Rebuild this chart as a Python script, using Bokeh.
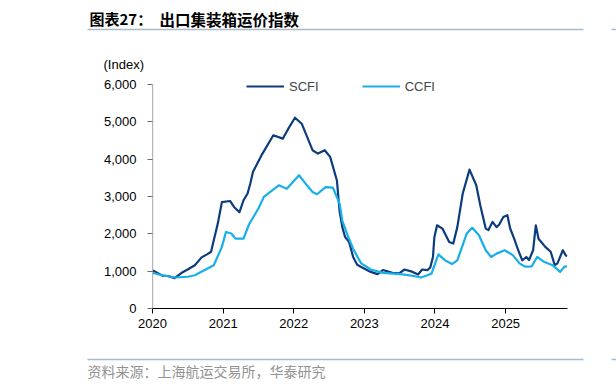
import pandas as pd
from bokeh.plotting import figure
from bokeh.layouts import column
from bokeh.models import (Range1d, FixedTicker, DatetimeTickFormatter, NumeralTickFormatter,
                          Legend, LegendItem, Label, BoxAnnotation, ColumnDataSource)
from bokeh.embed import file_html
from bokeh.resources import INLINE

# ---------------- data ----------------
TITLE_PREFIX = "图表27："
TITLE = "出口集装箱运价指数"
SOURCE = "资料来源：上海航运交易所，华泰研究"
UNIT = "(Index)"
SERIES_NAMES = ["SCFI", "CCFI"]
YEAR_TICKS = ["2020-01-01", "2021-01-01", "2022-01-01", "2023-01-01", "2024-01-01", "2025-01-01"]
Y_TICKS = [0, 1000, 2000, 3000, 4000, 5000, 6000]
X_START = "2020-01-01"
X_END = "2025-11-17"

SCFI_DATES = [
    "2020-01-03", "2020-02-21", "2020-03-20", "2020-04-24", "2020-05-29", "2020-07-03",
    "2020-08-07", "2020-09-11", "2020-10-09", "2020-10-30", "2020-11-13", "2020-12-04",
    "2020-12-25", "2021-02-05", "2021-02-26", "2021-03-26", "2021-04-16", "2021-05-07",
    "2021-05-21", "2021-06-04", "2021-07-23", "2021-09-17", "2021-11-05", "2021-12-03",
    "2022-01-07", "2022-02-11", "2022-04-08", "2022-05-06", "2022-06-10", "2022-07-08",
    "2022-08-12", "2022-08-26", "2022-09-09", "2022-09-23", "2022-10-14", "2022-10-21",
    "2022-11-04", "2022-11-25", "2022-12-16", "2023-02-03", "2023-03-10", "2023-04-07",
    "2023-05-26", "2023-06-30", "2023-07-28", "2023-09-08", "2023-10-06", "2023-10-27",
    "2023-11-24", "2023-12-08", "2023-12-22", "2023-12-29", "2024-01-12", "2024-02-09",
    "2024-03-15", "2024-04-05", "2024-04-26", "2024-05-24", "2024-06-28", "2024-08-02",
    "2024-08-23", "2024-09-20", "2024-10-04", "2024-10-25", "2024-11-15", "2024-11-29",
    "2024-12-20", "2025-01-10", "2025-01-24", "2025-02-14", "2025-03-07", "2025-03-28",
    "2025-04-18", "2025-05-02", "2025-05-23", "2025-06-06", "2025-06-20", "2025-07-25",
    "2025-08-22", "2025-09-12", "2025-09-26", "2025-10-24", "2025-11-07", "2025-11-14",
]
SCFI_VALUES = [
    1020, 880, 870, 815, 950, 1050,
    1160, 1370, 1450, 1520, 1830, 2280,
    2850, 2880, 2720, 2580, 2900, 3080,
    3350, 3660, 4150, 4640, 4550, 4810,
    5110, 4950, 4240, 4150, 4240, 4060,
    3430, 2600, 2180, 1920, 1780, 1650,
    1380, 1170, 1110, 980, 920, 1030,
    955, 940, 1045, 980, 910, 1045,
    1030, 1100, 1380, 1900, 2230, 2140,
    1780, 1740, 2180, 3080, 3720, 3300,
    2760, 2140, 2100, 2320, 2180, 2250,
    2450, 2500, 2150, 1870, 1560, 1290,
    1380, 1300, 1560, 2230, 1870, 1650,
    1520, 1160, 1210, 1560, 1430, 1390,
]

CCFI_DATES = [
    "2020-01-03", "2020-02-21", "2020-04-24", "2020-07-03", "2020-08-07", "2020-10-02",
    "2020-11-13", "2020-12-25", "2021-01-15", "2021-02-12", "2021-03-05", "2021-04-16",
    "2021-05-14", "2021-07-02", "2021-07-30", "2021-10-15", "2021-11-26", "2022-01-28",
    "2022-03-04", "2022-04-08", "2022-05-01", "2022-06-15", "2022-07-22", "2022-08-26",
    "2022-09-09", "2022-10-07", "2022-11-04", "2022-12-02", "2022-12-16", "2023-02-03",
    "2023-04-07", "2023-07-07", "2023-09-15", "2023-10-20", "2023-11-24", "2023-12-15",
    "2024-01-19", "2024-02-23", "2024-03-29", "2024-04-26", "2024-06-14", "2024-07-12",
    "2024-08-16", "2024-09-20", "2024-10-18", "2024-11-15", "2024-12-27", "2025-02-07",
    "2025-03-14", "2025-04-11", "2025-05-16", "2025-06-13", "2025-07-18", "2025-09-01",
    "2025-10-10", "2025-11-01", "2025-11-14",
]
CCFI_VALUES = [
    950, 890, 830, 850, 890, 1045,
    1160, 1650, 2050, 2010, 1870, 1870,
    2250, 2680, 2990, 3300, 3210, 3570,
    3340, 3120, 3060, 3250, 3240, 2810,
    2350, 1950, 1600, 1330, 1210, 1045,
    955, 920, 870, 830, 890, 940,
    1450, 1290, 1190, 1290, 2010, 2160,
    1960, 1560, 1380, 1470, 1560, 1430,
    1210, 1120, 1130, 1380, 1250, 1160,
    980, 1120, 1130,
]

# ---------------- styling ----------------
SCFI_COLOR = "#0D3C7E"
CCFI_COLOR = "#18AEEA"
RULE_COLOR = "#A9BACD"
FONT = "Liberation Sans"
CJK = "Noto Sans CJK SC"
W = 616
HEAD_H, MAIN_TOP, MAIN_BOTTOM, FOOT_H = 72, 4, 37, 44
AXIS_PX = 224           # pixels from 0 to the top tick
FRAME_PX = 232          # frame a little taller so the legend is not clipped


def blank(height):
    f = figure(width=W, height=height, output_backend="svg", toolbar_location=None,
               x_range=Range1d(0, W), y_range=Range1d(height, 0), frame_align=False,
               min_border=0, min_border_left=0, min_border_right=0,
               min_border_top=0, min_border_bottom=0)
    f.axis.visible = False
    f.grid.visible = False
    f.outline_line_color = None
    f.background_fill_color = "white"
    f.border_fill_color = "white"
    return f


def rule(f, y, x0, x1, w=1.5):
    f.add_layout(BoxAnnotation(left=x0, right=x1, top=y - w / 2, bottom=y + w / 2,
                               fill_color=RULE_COLOR, fill_alpha=1, line_alpha=0))


# ---------------- header ----------------
head = blank(HEAD_H)
head.add_layout(Label(x=89, y=18, text=TITLE_PREFIX, text_font=CJK, text_font_style="bold",
                      text_font_size="15px", text_baseline="middle", text_color="black"))
head.add_layout(Label(x=159, y=18, text=TITLE, text_font=CJK, text_font_style="bold",
                      text_font_size="15.5px", text_baseline="middle", text_color="black"))
rule(head, 29, 87, 583)
rule(head, 29, 611, W)
head.add_layout(Label(x=103, y=64, text=UNIT, text_font=FONT, text_font_size="13px",
                      text_baseline="middle", text_color="black"))

# ---------------- main chart ----------------
y_end = Y_TICKS[-1] * FRAME_PX / AXIS_PX
p = figure(width=W, height=MAIN_TOP + FRAME_PX + MAIN_BOTTOM, output_backend="svg",
           toolbar_location=None, x_axis_type="datetime", frame_align=False,
           x_range=Range1d(pd.Timestamp(X_START), pd.Timestamp(X_END)),
           y_range=Range1d(Y_TICKS[0], y_end),
           min_border_left=152, min_border_right=49, min_border_top=MAIN_TOP,
           min_border_bottom=MAIN_BOTTOM)
p.outline_line_color = None
p.grid.visible = False
p.background_fill_color = "white"
p.border_fill_color = "white"

s1 = ColumnDataSource(dict(x=pd.to_datetime(SCFI_DATES), y=SCFI_VALUES))
s2 = ColumnDataSource(dict(x=pd.to_datetime(CCFI_DATES), y=CCFI_VALUES))
r1 = p.line("x", "y", source=s1, line_color=SCFI_COLOR, line_width=2.2, line_join="round")
r2 = p.line("x", "y", source=s2, line_color=CCFI_COLOR, line_width=2.2, line_join="round")

# y axis line only from 0 to the top tick
p.segment(x0=[pd.Timestamp(X_START)], y0=[Y_TICKS[0]], x1=[pd.Timestamp(X_START)],
          y1=[Y_TICKS[-1]], line_color="#6b6b6b", line_width=1.2)

xa = p.xaxis[0]
xa.ticker = FixedTicker(ticks=[pd.Timestamp(t).value / 1e6 for t in YEAR_TICKS])
xa.formatter = DatetimeTickFormatter(years="%Y", months="%Y", days="%Y", hours="%Y",
                                     hourmin="%Y", minutes="%Y", minsec="%Y", seconds="%Y",
                                     milliseconds="%Y", microseconds="%Y")
xa.axis_line_color = "black"
xa.major_tick_line_color = "black"
xa.major_tick_out = 5
xa.major_tick_in = 0
xa.minor_tick_line_color = None
xa.major_label_standoff = 5
xa.major_label_text_font = FONT
xa.major_label_text_font_size = "13px"
xa.major_label_text_color = "black"

ya = p.yaxis[0]
ya.ticker = FixedTicker(ticks=Y_TICKS)
ya.formatter = NumeralTickFormatter(format="0,0")
ya.axis_line_color = None
ya.major_tick_line_color = "#6b6b6b"
ya.major_tick_out = 5
ya.major_tick_in = 0
ya.minor_tick_line_color = None
ya.major_label_standoff = 11
ya.major_label_text_font = FONT
ya.major_label_text_font_size = "13px"
ya.major_label_text_color = "black"

legend = Legend(items=[LegendItem(label=SERIES_NAMES[0], renderers=[r1]),
                       LegendItem(label=SERIES_NAMES[1], renderers=[r2])],
                orientation="horizontal", location=(94, 214),
                border_line_alpha=0, background_fill_alpha=0, padding=0, margin=0,
                spacing=43, glyph_width=38, glyph_height=16, label_height=16,
                label_standoff=5, label_text_font=FONT, label_text_font_size="13px")
p.add_layout(legend)

# ---------------- footer ----------------
foot = blank(FOOT_H)
rule(foot, 14, 87, 583)
rule(foot, 14, 611, W)
foot.add_layout(Label(x=87, y=25, text=SOURCE, text_font=CJK, text_font_size="14px",
                      text_baseline="middle", text_color="#929292"))

layout = column(head, p, foot, spacing=0)
open("out.html", "w").write(file_html(layout, INLINE))
